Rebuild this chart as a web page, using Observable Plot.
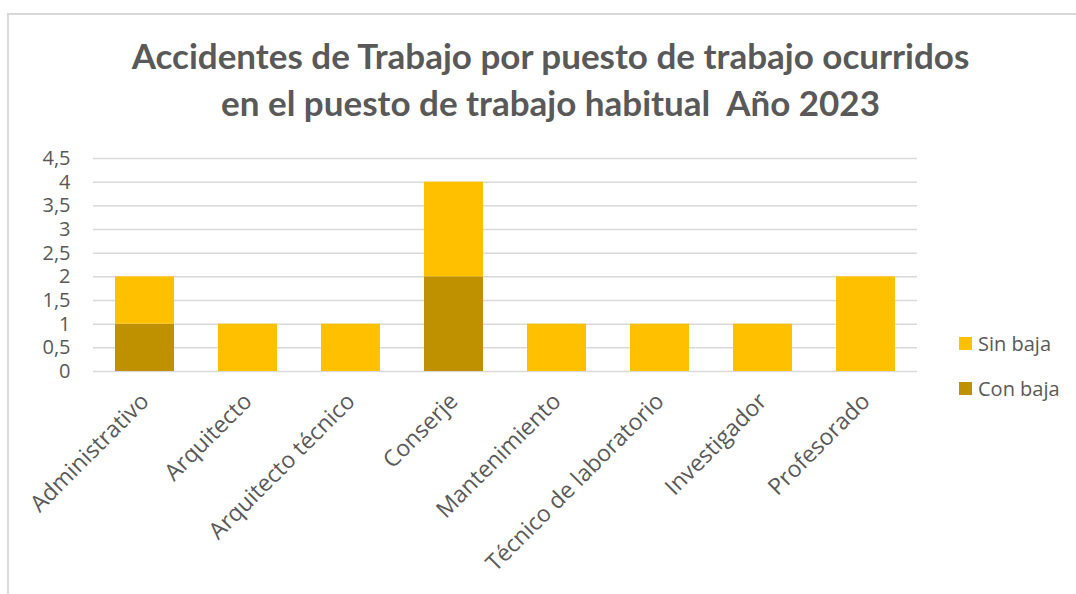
<!DOCTYPE html>
<html>
<head>
<meta charset="utf-8">
<script src="https://cdn.jsdelivr.net/npm/d3@7"></script>
<script src="https://cdn.jsdelivr.net/npm/@observablehq/plot@0.6"></script>
<style>
  html, body { margin: 0; padding: 0; background: #fff; }
  #wrap { position: relative; width: 1076px; height: 594px; overflow: hidden; background: #fff; }
  #frame { position: absolute; left: 7px; top: 13px; width: 1100px; height: 600px; border-left: 2px solid #d9d9d9; border-top: 2px solid #d9d9d9; }
  #title { position: absolute; left: 0; width: 1101px; top: 32px; text-align: center; font-family: Lato, sans-serif; font-weight: bold; font-size: 35px; line-height: 47px; color: #595959; }
  #chart { position: absolute; left: 0; top: 0; }
  #legend { position: absolute; left: 959px; top: 329px; font-family: "Open Sans", sans-serif; font-size: 20px; color: #595959; }
  .li { display: flex; align-items: center; height: 28px; margin-bottom: 17px; }
  .sw { width: 13px; height: 13px; margin-right: 6px; }
</style>
</head>
<body>
<div id="wrap">
  <div id="frame"></div>
  <div id="chart"></div>
  <div id="title">Accidentes de Trabajo por puesto de trabajo ocurridos<br>en el puesto de trabajo habitual&nbsp; Año 2023</div>
  <div id="legend"></div>
</div>
<script>
const categories = ["Administrativo", "Arquitecto", "Arquitecto técnico", "Conserje", "Mantenimiento", "Técnico de laboratorio", "Investigador", "Profesorado"];
const conBaja = [1, 0, 0, 2, 0, 0, 0, 0];
const sinBaja = [1, 1, 1, 2, 1, 1, 1, 2];
const seriesNames = ["Con baja", "Sin baja"];
const seriesColors = ["#BF9000", "#FFC000"];
const yTicks = [0, 0.5, 1, 1.5, 2, 2.5, 3, 3.5, 4, 4.5];

const data = [];
categories.forEach((c, i) => {
  data.push({puesto: c, serie: seriesNames[0], valor: conBaja[i]});
  data.push({puesto: c, serie: seriesNames[1], valor: sinBaja[i]});
});

const fmt = v => String(v).replace(".", ",");

const plot = Plot.plot({
  width: 1076,
  height: 594,
  marginLeft: 93,
  marginRight: 159,
  marginTop: 158,
  marginBottom: 223,
  style: { fontFamily: "'Open Sans', sans-serif", fontSize: "20px", color: "#595959", background: "transparent" },
  x: { domain: categories, paddingInner: 0.43, paddingOuter: 0.215, label: null },
  y: { domain: [0, 4.5], label: null },
  color: { domain: seriesNames, range: seriesColors },
  marks: [
    Plot.gridY(yTicks, { stroke: "#d9d9d9", strokeWidth: 1.5, strokeOpacity: 1 }),
    Plot.barY(data, Plot.stackY({ order: seriesNames }, { x: "puesto", y: "valor", fill: "serie" })),
    Plot.axisY(yTicks, { tickSize: 0, tickPadding: 23, tickFormat: fmt, fill: "#595959", fontSize: 20 }),
    Plot.axisX({ tickSize: 0, tickPadding: 26, tickRotate: -45, fill: "#595959", fontSize: 23 })
  ]
});
document.getElementById("chart").appendChild(plot);

const legend = document.getElementById("legend");
[1, 0].forEach(i => {
  const row = document.createElement("div");
  row.className = "li";
  row.innerHTML = `<div class="sw" style="background:${seriesColors[i]}"></div><span>${seriesNames[i]}</span>`;
  legend.appendChild(row);
});
</script>
</body>
</html>
